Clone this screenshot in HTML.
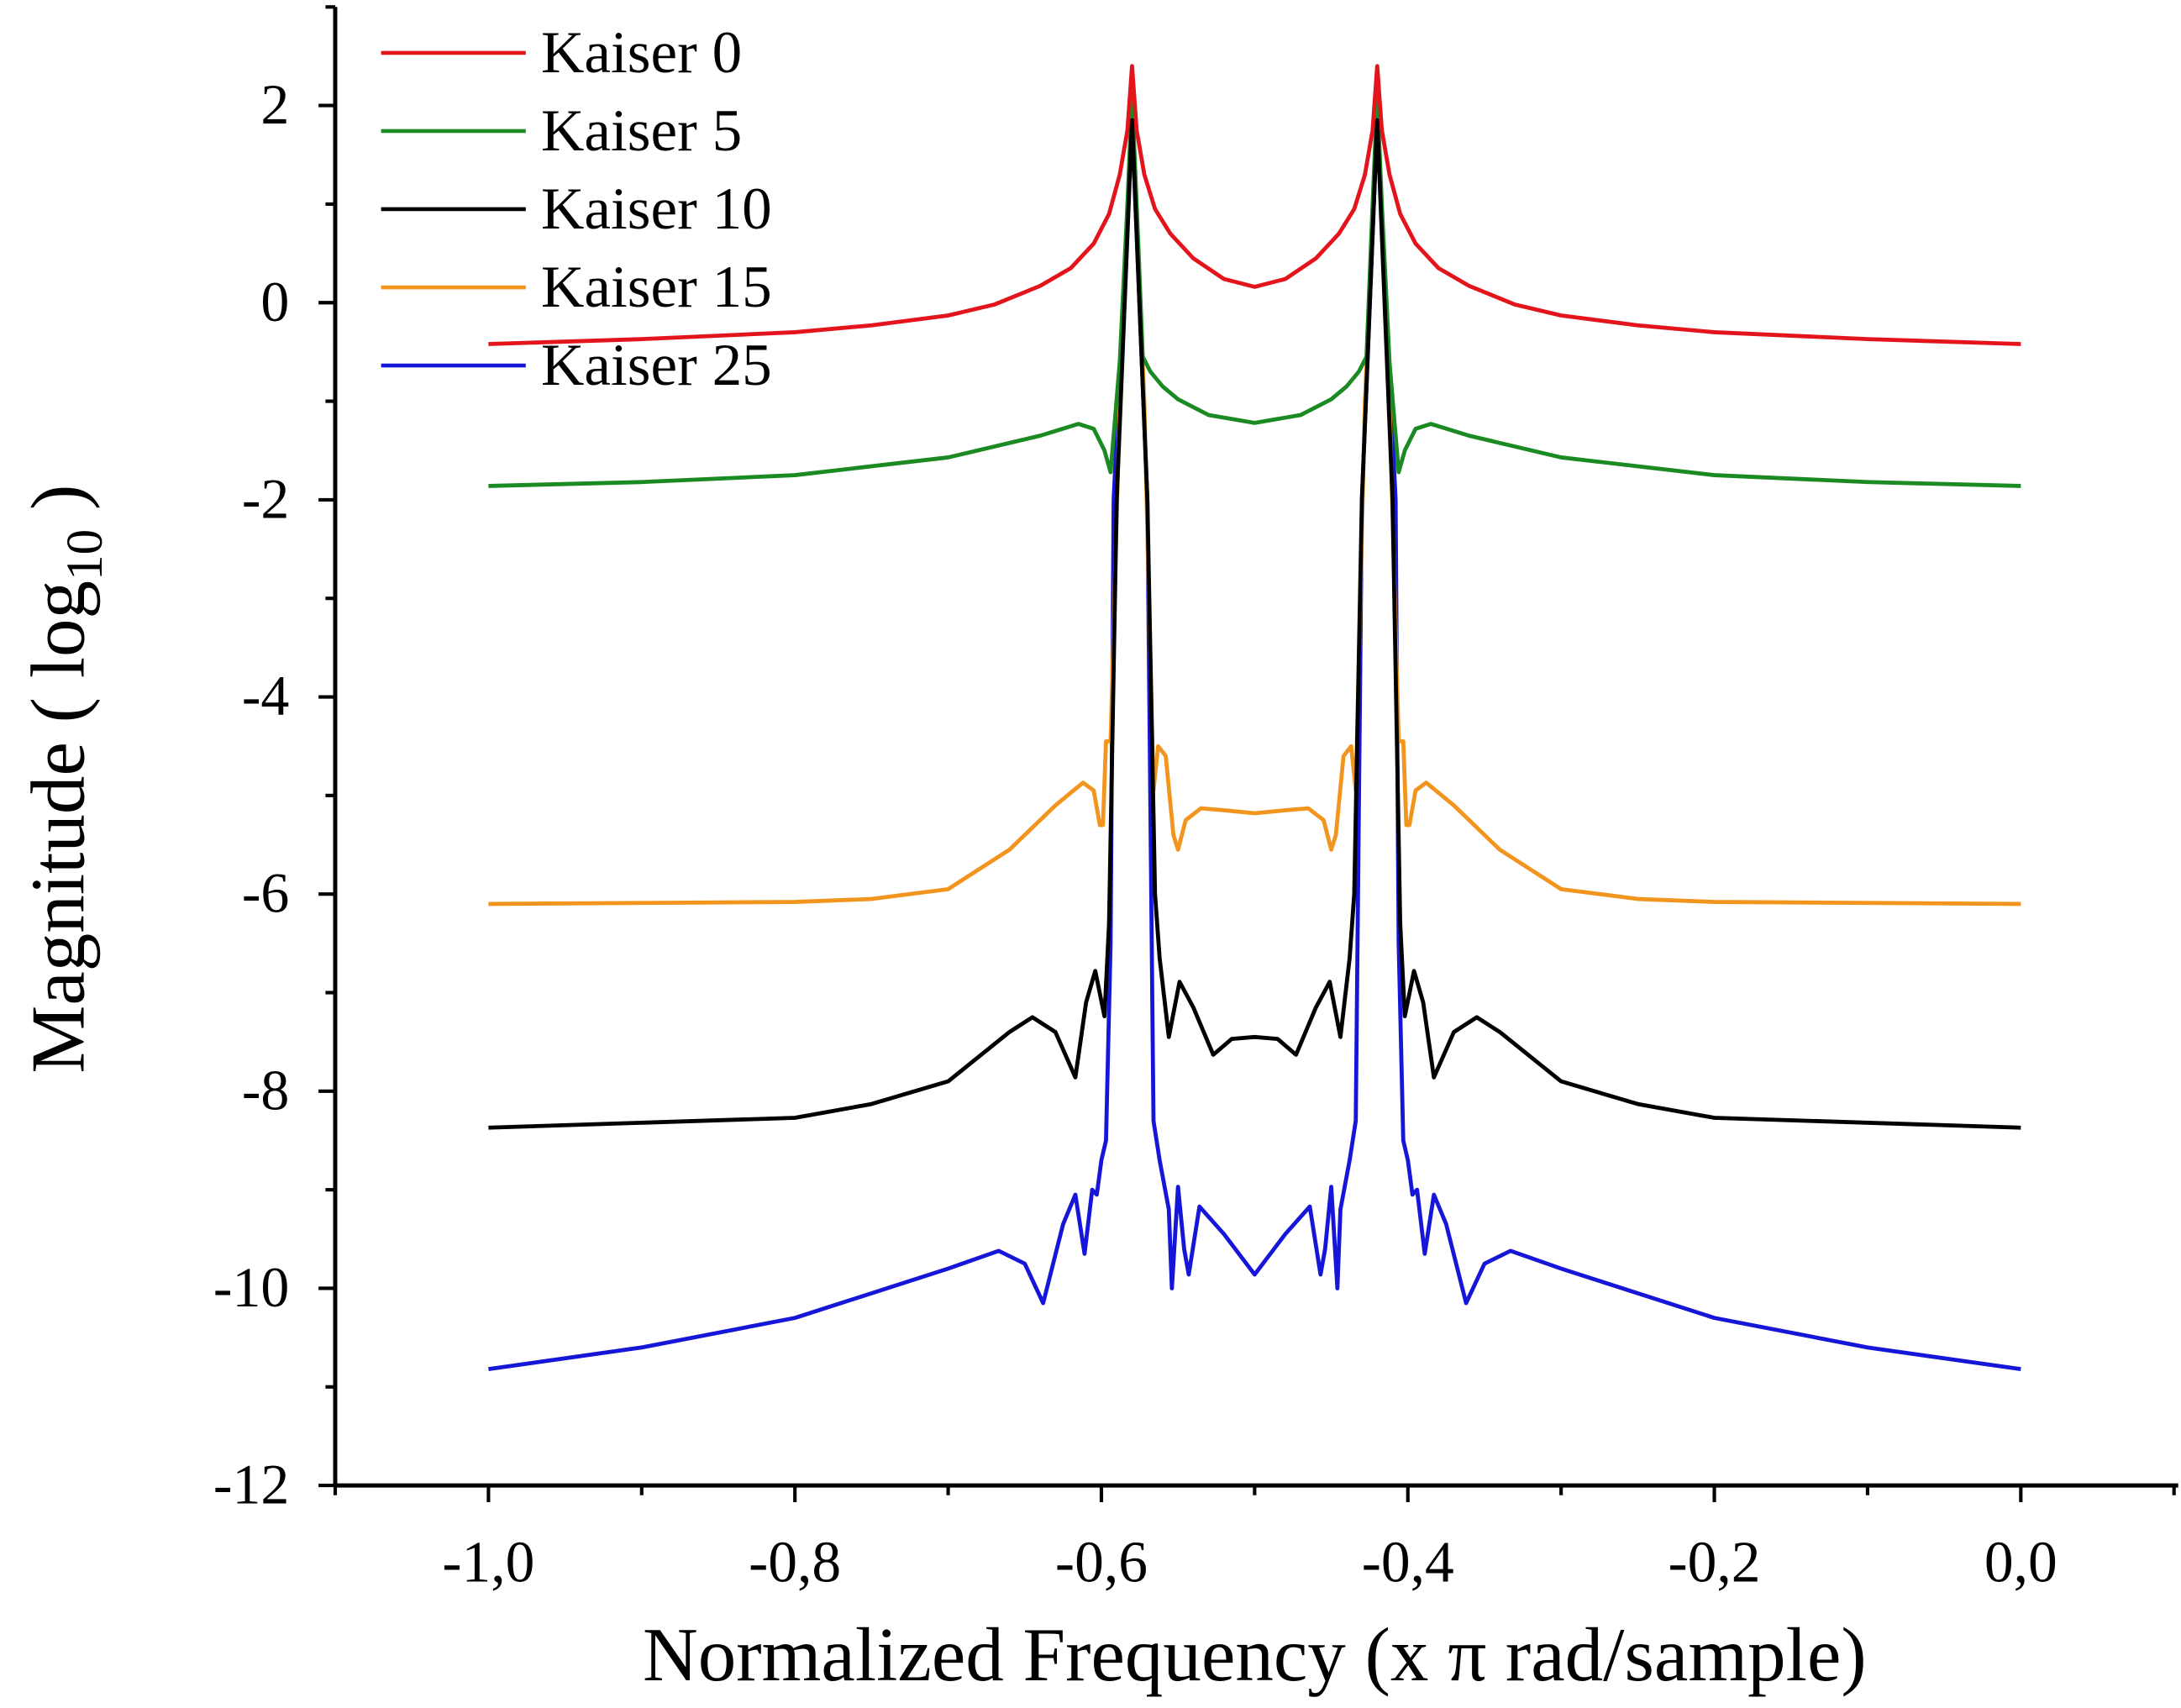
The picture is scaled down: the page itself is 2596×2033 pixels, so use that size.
<!DOCTYPE html>
<html><head><meta charset="utf-8"><style>
html,body{margin:0;padding:0;background:#fff;}
svg{display:block;}
text{font-family:"Liberation Serif",serif;fill:#000;}
</style></head><body>
<svg id="chart" width="2596" height="2033" viewBox="0 0 1568 1228" preserveAspectRatio="none" xmlns="http://www.w3.org/2000/svg">
<g id="axes"></g>
<g id="series"></g>
<g id="legend"></g>
<text x="902" y="1208" font-size="55" text-anchor="middle">Normalized Frequency (x π rad/sample)</text>
<text transform="translate(60,560) rotate(-90)" font-size="55" text-anchor="middle">Magnitude ( log<tspan font-size="37" dy="13">10</tspan><tspan dy="-13"> )</tspan></text>
</svg>
<script>
const xTicks = [-1.0,-0.8,-0.6,-0.4,-0.2,0.0];
const xTickLabels = ["-1,0","-0,8","-0,6","-0,4","-0,2","0,0"];
const yTicks = [2,0,-2,-4,-6,-8,-10,-12];
const yTickLabels = ["2","0","-2","-4","-6","-8","-10","-12"];
const seriesNames = ["Kaiser 0","Kaiser 5","Kaiser 10","Kaiser 15","Kaiser 25"];

const k0x = [-1.0,-0.9,-0.8,-0.75,-0.7,-0.67,-0.64,-0.62,-0.605,-0.595,-0.588,-0.583,-0.58,-0.577,-0.572,-0.565,-0.555,-0.54,-0.52,-0.5,-0.48,-0.46,-0.445,-0.435,-0.428,-0.423,-0.42,-0.417,-0.412,-0.405,-0.395,-0.38,-0.36,-0.33,-0.3,-0.25,-0.2,-0.1,0.0];
const k0y = [-0.42,-0.37,-0.3,-0.23,-0.13,-0.02,0.17,0.35,0.6,0.9,1.3,1.75,2.4,1.75,1.3,0.95,0.7,0.45,0.24,0.16,0.24,0.45,0.7,0.95,1.3,1.75,2.4,1.75,1.3,0.9,0.6,0.35,0.17,-0.02,-0.13,-0.23,-0.3,-0.37,-0.42];

const k5x = [-1.0,-0.9,-0.8,-0.7,-0.64,-0.615,-0.605,-0.598,-0.594,-0.588,-0.583,-0.58,-0.577,-0.573,-0.568,-0.56,-0.55,-0.53,-0.5,-0.47,-0.45,-0.44,-0.432,-0.427,-0.423,-0.42,-0.417,-0.412,-0.406,-0.402,-0.395,-0.385,-0.36,-0.3,-0.2,-0.1,0.0];
const k5y = [-1.86,-1.82,-1.75,-1.57,-1.35,-1.23,-1.28,-1.5,-1.72,-0.6,1.0,2.1,1.0,-0.55,-0.7,-0.85,-0.98,-1.14,-1.22,-1.14,-0.98,-0.85,-0.7,-0.55,1.0,2.1,1.0,-0.6,-1.72,-1.5,-1.28,-1.23,-1.35,-1.57,-1.75,-1.82,-1.86];

const k10x = [-1.0,-0.8,-0.75,-0.7,-0.66,-0.645,-0.63,-0.617,-0.61,-0.604,-0.598,-0.595,-0.59,-0.58,-0.57,-0.565,-0.562,-0.556,-0.549,-0.54,-0.527,-0.515,-0.5,-0.485,-0.473,-0.46,-0.451,-0.444,-0.438,-0.435,-0.43,-0.42,-0.41,-0.405,-0.402,-0.396,-0.39,-0.383,-0.37,-0.355,-0.34,-0.3,-0.25,-0.2,0.0];
const k10y = [-8.37,-8.27,-8.13,-7.9,-7.4,-7.25,-7.4,-7.86,-7.1,-6.78,-7.24,-6.3,-2.0,1.85,-2.0,-6.0,-6.65,-7.45,-6.89,-7.15,-7.63,-7.47,-7.45,-7.47,-7.63,-7.15,-6.89,-7.45,-6.65,-6.0,-2.0,1.85,-2.0,-6.3,-7.24,-6.78,-7.1,-7.86,-7.4,-7.25,-7.4,-7.9,-8.13,-8.27,-8.37];

const k15x = [-1.0,-0.8,-0.75,-0.7,-0.66,-0.63,-0.612,-0.605,-0.601,-0.599,-0.597,-0.594,-0.588,-0.58,-0.572,-0.566,-0.563,-0.558,-0.553,-0.55,-0.545,-0.535,-0.52,-0.5,-0.48,-0.465,-0.455,-0.45,-0.447,-0.442,-0.437,-0.434,-0.428,-0.42,-0.412,-0.406,-0.403,-0.401,-0.399,-0.395,-0.388,-0.37,-0.34,-0.3,-0.25,-0.2,0.0];
const k15y = [-6.1,-6.08,-6.05,-5.95,-5.55,-5.1,-4.87,-4.95,-5.3,-5.3,-4.45,-4.45,-1.0,2.0,-1.0,-4.95,-4.5,-4.6,-5.4,-5.55,-5.25,-5.13,-5.15,-5.18,-5.15,-5.13,-5.25,-5.55,-5.4,-4.6,-4.5,-4.95,-1.0,2.0,-1.0,-4.45,-4.45,-5.3,-5.3,-4.95,-4.87,-5.1,-5.55,-5.95,-6.05,-6.08,-6.1];

const k25x = [-1.0,-0.9,-0.8,-0.7,-0.667,-0.65,-0.638,-0.625,-0.617,-0.611,-0.606,-0.603,-0.6,-0.597,-0.594,-0.592,-0.58,-0.57,-0.566,-0.562,-0.556,-0.554,-0.55,-0.546,-0.543,-0.536,-0.52,-0.5,-0.48,-0.464,-0.457,-0.454,-0.45,-0.446,-0.444,-0.438,-0.434,-0.43,-0.42,-0.408,-0.406,-0.403,-0.4,-0.397,-0.394,-0.389,-0.383,-0.375,-0.362,-0.35,-0.333,-0.3,-0.2,-0.1,0.0];
const k25y = [-10.82,-10.6,-10.3,-9.8,-9.62,-9.75,-10.15,-9.35,-9.05,-9.65,-9.0,-9.05,-8.7,-8.5,-6.5,-2.0,1.85,-2.0,-8.3,-8.7,-9.2,-10.0,-8.97,-9.6,-9.86,-9.17,-9.45,-9.86,-9.45,-9.17,-9.86,-9.6,-8.97,-10.0,-9.2,-8.7,-8.3,-2.0,1.85,-2.0,-6.5,-8.5,-8.7,-9.05,-9.0,-9.65,-9.05,-9.35,-10.15,-9.75,-9.62,-9.8,-10.3,-10.6,-10.82];

const NS = "http://www.w3.org/2000/svg";
const X0 = 241, X1 = 1563, XMIN = -1.1, XMAX = 0.1;
const Y0 = 1068, YTOP = 5, YMIN = -12, YMAX = 3;
function sx(v){ return X0 + (v - XMIN) / (XMAX - XMIN) * (X1 - X0); }
function sy(v){ return Y0 - (v - YMIN) / (YMAX - YMIN) * (Y0 - YTOP); }
function mk(tag, attrs, parent){ const e = document.createElementNS(NS, tag); for (const k in attrs) e.setAttribute(k, attrs[k]); parent.appendChild(e); return e; }

const axes = document.getElementById('axes');
let yAxis = mk('line', {x1:X0, y1:YTOP, x2:X0, y2:Y0, stroke:'#000', 'stroke-width':3}, axes);


let xAxis = mk('line', {x1:X0-1, y1:Y0, x2:X1+3, y2:Y0, stroke:'#000', 'stroke-width':3}, axes);



for (let v = -12; v <= 3; v++) {
  const major = (v % 2 === 0);
  const t = mk('line', {x1:X0 - (major ? 12 : 7), y1:sy(v), x2:X0, y2:sy(v), stroke:'#000', 'stroke-width':2.5}, axes);
  
  
}
yTicks.forEach((v, i) => {
  const t = mk('text', {x:208, y:sy(v)+13, 'font-size':41, 'text-anchor':'end'}, axes);
  t.textContent = yTickLabels[i];
  
  
});
for (let k = -11; k <= 1; k++) {
  const v = k / 10;
  const major = (k % 2 === 0);
  const t = mk('line', {x1:sx(v), y1:Y0, x2:sx(v), y2:Y0 + (major ? 12 : 7), stroke:'#000', 'stroke-width':2.5}, axes);
  
  
}
xTicks.forEach((v, i) => {
  const t = mk('text', {x:sx(v), y:1137, 'font-size':42, 'text-anchor':'middle'}, axes);
  t.textContent = xTickLabels[i];
  
  
});

const seriesX = [k0x, k5x, k10x, k15x, k25x];
const seriesY = [k0y, k5y, k10y, k15y, k25y];
const colors = ['#e3141c','#1b8a22','#000000','#f2951e','#1616d8'];
const seriesKeys = ['kaiser-0','kaiser-5','kaiser-10','kaiser-15','kaiser-25'];
const drawOrder = [4, 3, 1, 0, 2];
const sg = document.getElementById('series');
drawOrder.forEach(i => {
  const pts = seriesX[i].map((x, j) => sx(x).toFixed(2) + ',' + sy(seriesY[i][j]).toFixed(2)).join(' ');
  const p = mk('polyline', {points:pts, fill:'none', stroke:colors[i], 'stroke-width':2.9, 'stroke-linejoin':'round'}, sg);
  
  
});

const lg = document.getElementById('legend');
seriesNames.forEach((n, i) => {
  const y = 38 + i * 56.2;
  const l = mk('line', {x1:274, y1:y, x2:378, y2:y, stroke:colors[i], 'stroke-width':2.8}, lg);
  
  
  const t = mk('text', {x:389, y:y+14, 'font-size':43}, lg);
  t.textContent = n;
  
  
});
</script>
</body></html>
